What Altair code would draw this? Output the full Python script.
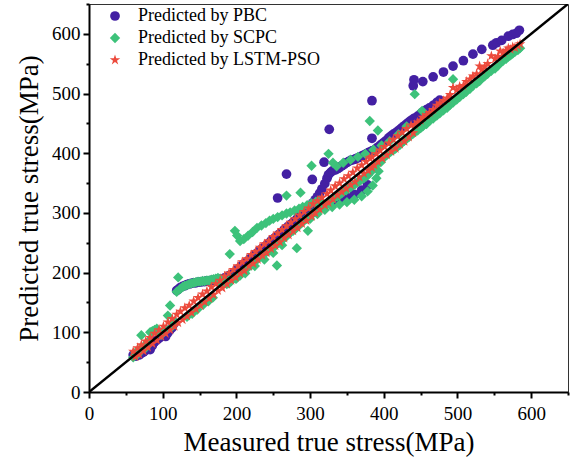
import altair as alt
import pandas as pd

models = ["Predicted by PBC", "Predicted by SCPC", "Predicted by LSTM-PSO"]
colors = ["#4320A3", "#3DC27A", "#EC4A3C"]
STAR = ("M0,-1L0.225,-0.309L0.951,-0.309L0.363,0.118L0.588,0.809L0,0.382"
        "L-0.588,0.809L-0.363,0.118L-0.951,-0.309L-0.225,-0.309Z")
shapes = ["circle", "diamond", STAR]

measured = [
    60, 63, 66, 68, 71, 74, 77, 80, 83, 86,
    89, 92, 95, 98, 101, 104, 107, 110, 113, 116,
    119, 121, 124, 127, 130, 133, 136, 139, 142, 145,
    148, 151, 154, 157, 160, 163, 166, 169, 172, 175,
    178, 181, 184, 187, 190, 193, 196, 199, 202, 205,
    208, 211, 214, 217, 220, 223, 226, 229, 232, 235,
    238, 241, 244, 247, 250, 253, 256, 259, 262, 265,
    268, 271, 274, 277, 280, 283, 286, 289, 292, 295,
    298, 302, 304, 307, 310, 313, 316, 320, 323, 325,
    328, 331, 334, 337, 340, 343, 346, 349, 352, 355,
    358, 361, 364, 367, 370, 373, 376, 379, 381, 384,
    384, 387, 390, 392, 395, 398, 401, 404, 407, 410,
    413, 416, 419, 422, 425, 428, 431, 434, 437, 440,
    442, 446, 450, 453, 458, 462, 467, 472, 476, 481,
    486, 490, 494, 499, 503, 508, 512, 517, 521, 526,
    530, 533, 537, 541, 546, 551, 555, 558, 562, 566,
    569, 572, 575, 578, 582, 585,
]

lstm_pso = [
    68, 59, 74, 63, 79, 69, 85, 75, 91, 81,
    98, 87, 104, 93, 110, 98, 117, 104, 123, 110,
    130, 116, 135, 121, 141, 127, 145, 133, 152, 139,
    158, 145, 164, 151, 169, 157, 176, 163, 181, 170,
    187, 174, 194, 181, 199, 187, 205, 192, 211, 199,
    218, 203, 223, 211, 230, 215, 235, 222, 242, 229,
    248, 233, 253, 240, 260, 245, 266, 251, 272, 258,
    278, 263, 284, 270, 290, 275, 296, 282, 302, 287,
    308, 294, 315, 300, 320, 306, 326, 313, 332, 317,
    338, 323, 345, 330, 350, 335, 357, 341, 362, 347,
    368, 352, 375, 360, 380, 366, 386, 371, 392, 376,
    394, 380, 399, 386, 405, 391, 411, 397, 417, 403,
    423, 408, 429, 415, 435, 420, 441, 427, 447, 434,
    448, 452, 455, 460, 464, 468, 473, 480, 484, 488,
    492, 498, 510, 506, 512, 513, 520, 524, 529, 533,
    546, 540, 545, 550, 563, 558, 562, 571, 568, 572,
    576, 574, 578, 577, 580, 583,
]

pbc = [
    62, 60, 63, 62, 65, 67, 70, 73, 71, 78,
    84, 87, 90, 95, 97, 93, 99, 104, 108, 116,
    170, 172, 175, 177, 178, 180, 181, 182, 183, 183,
    184, 184, 185, 185, 186, 186, 187, 187, 188, 189,
    188, 185, 191, 190, 195, 196, 199, 201, 206, 208,
    213, 215, 218, 221, 225, 227, 231, 233, 237, 240,
    243, 246, 249, 253, 256, 259, 262, 265, 268, 272,
    275, 278, 281, 284, 287, 291, 294, 298, 301, 305,
    309, 314, 317, 322, 327, 333, 340, 349, 358, 364,
    368, 371, 372, 374, 376, 379, 381, 384, 386, 388,
    389, 390, 392, 393, 395, 397, 399, 401, 402, 404,
    403, 405, 408, 410, 413, 416, 419, 422, 426, 429,
    432, 434, 437, 440, 443, 446, 449, 452, 455, 457,
    459, 462, 466, 469, 473, 476, 480, 485, 489, None,
    None, None, None, None, None, None, None, None, None, None,
    None, None, None, None, None, None, None, None, None, None,
    None, None, None, None, None, None,
]

pbc_extra_measured = [256, 268, 303, 319, 326, 384, 384, 440, 441, 453, 467, 481,
                      494, 508, 521, 533, 548, 553, 560, 569, 575, 580, 584,
                      330, 340, 350, 360, 370, 378]
pbc_extra_predicted = [325, 365, 356, 385, 440, 488, 425, 513, 523, 520, 528, 536,
                       546, 555, 566, 574, 581, 585, 589, 596, 599, 601, 606,
                       318, 322, 326, 331, 338, 347]

scpc = [
    58, 66, 63, 70, 95, 76, 74, 84, 100, 102,
    104, 106, 99, 96, 100, 103, 128, 145, 110, 118,
    168, 192, 173, 176, 178, 179, 181, 182, 183, 184,
    185, 185, 186, 186, 187, 187, 188, 189, 190, 191,
    190, 180, 186, 181, 187, 186, 191, 190, 196, 195,
    200, 204, 207, 210, 212, 216, 219, 224, 226, 230,
    231, 235, 236, 240, 243, 245, 249, 252, 255, 258,
    261, 265, 268, 270, 273, 277, 280, 284, 287, 290,
    293, 297, 299, 302, 305, 307, 310, 314, 316, 318,
    320, 323, 326, 328, 330, 333, 336, 338, 341, 343,
    346, 348, 351, 353, 356, 358, 361, 364, 367, 371,
    375, 378, 381, 384, 387, 390, 394, 397, 400, 403,
    405, 408, 411, 414, 418, 421, 424, 427, 430, 433,
    435, 438, 442, 445, 449, 454, 458, 463, 467, 472,
    476, 481, 485, 490, 494, 499, 503, 508, 513, 517,
    521, 526, 529, 533, 538, 542, 547, 551, 555, 558,
    562, 564, 567, 570, 573, 576,
]

scpc_extra_measured = [
    198, 201, 205, 210, 216, 222, 228, 234, 240, 245, 250,
    256, 262, 268, 273, 279, 285, 290, 296, 302, 308, 313,
    336, 345, 355, 365, 375, 386, 397, 408, 420, 431,
    191, 255, 282, 268, 287, 302, 325, 331, 381, 392, 442, 494, 452, 297,
    133, 140, 147, 155, 162, 168,
    190, 200, 212, 225, 238, 250, 262,
    300, 310, 320, 330, 340, 350, 360, 370, 378, 385, 390, 393, 396,
]
scpc_extra_predicted = [
    270, 262, 253, 256, 262, 268, 275, 279, 283, 287, 290,
    293, 296, 299, 301, 304, 307, 310, 313, 316, 319, 321,
    378, 384, 389, 394, 399, 406, 413, 420, 432, 445,
    231, 212, 241, 329, 334, 379, 399, 384, 454, 438, 499, 524, 471, 270,
    126, 131, 138, 146, 152, 158,
    182, 190, 199, 211, 222, 233, 246,
    290, 298, 305, 310, 314, 318, 322, 328, 336, 346, 358, 370, 385,
]

diag_measured = [0, 650]
diag_predicted = [0, 650]
tick_values = [0, 50, 100, 150, 200, 250, 300, 350, 400, 450, 500, 550, 600, 650]

rows = []


def add(xs, ys, name):
    for a, b in zip(xs, ys):
        if b is not None:
            rows.append({"measured": a, "predicted": b, "model": name})


add(measured, pbc, models[0])
add(pbc_extra_measured, pbc_extra_predicted, models[0])
add(measured, scpc, models[1])
add(scpc_extra_measured, scpc_extra_predicted, models[1])
add(measured, lstm_pso, models[2])
df = pd.DataFrame(rows)
diag = pd.DataFrame({"measured": diag_measured, "predicted": diag_predicted})

FONT = "Liberation Serif"
tick_size = {"condition": {"test": "datum.value % 100 !== 0", "value": 3}, "value": 6}


def make_axis(title, label_pad, title_pad, orient):
    return alt.Axis(
        title=title, values=tick_values, grid=False, orient=orient,
        labelExpr="datum.value % 100 === 0 ? datum.label : ''",
        labelFont=FONT, labelFontSize=19, labelColor="black", labelPadding=label_pad,
        labelFlush=False, labelOverlap=False,
        titleFont=FONT, titleFontSize=27, titleFontWeight="normal", titleColor="black",
        titlePadding=title_pad,
        tickSize=tick_size, tickWidth=2, tickColor="black",
        domainColor="black", domainWidth=2,
    )


x_enc = alt.X("measured:Q", scale=alt.Scale(domain=[0, 650], nice=False, zero=False),
              axis=make_axis("Measured true stress(MPa)", 6, 6, "bottom"))
y_enc = alt.Y("predicted:Q", scale=alt.Scale(domain=[0, 650], nice=False, zero=False),
              axis=make_axis("Predicted true stress(MPa)", 3, 8, "left"))

legend = alt.Legend(title=None, orient="none", legendX=17, legendY=3, padding=0,
                    symbolSize=100, labelFont=FONT, labelFontSize=18, labelColor="black",
                    labelOffset=14, rowPadding=4, symbolStrokeWidth=0, labelLimit=400)

points = alt.Chart(df).mark_point(filled=True, opacity=1, strokeWidth=0).encode(
    x=x_enc,
    y=y_enc,
    color=alt.Color("model:N", scale=alt.Scale(domain=models, range=colors), legend=legend),
    shape=alt.Shape("model:N", scale=alt.Scale(domain=models, range=shapes), legend=legend),
    size=alt.Size("model:N", scale=alt.Scale(domain=models, range=[95, 120, 170]), legend=None),
)

line = alt.Chart(diag).mark_line(color="black", strokeWidth=2.5, clip=True).encode(
    x=x_enc, y=y_enc
)

chart = alt.layer(points, line).properties(
    width=479, height=388,
    autosize=alt.AutoSizeParams(type="none"),
    padding={"left": 89, "top": 4, "right": 7, "bottom": 69},
    background="white",
).configure_view(stroke="#333333", strokeWidth=1)

chart.save("out.html", embed_options={"renderer": "svg", "actions": False})
